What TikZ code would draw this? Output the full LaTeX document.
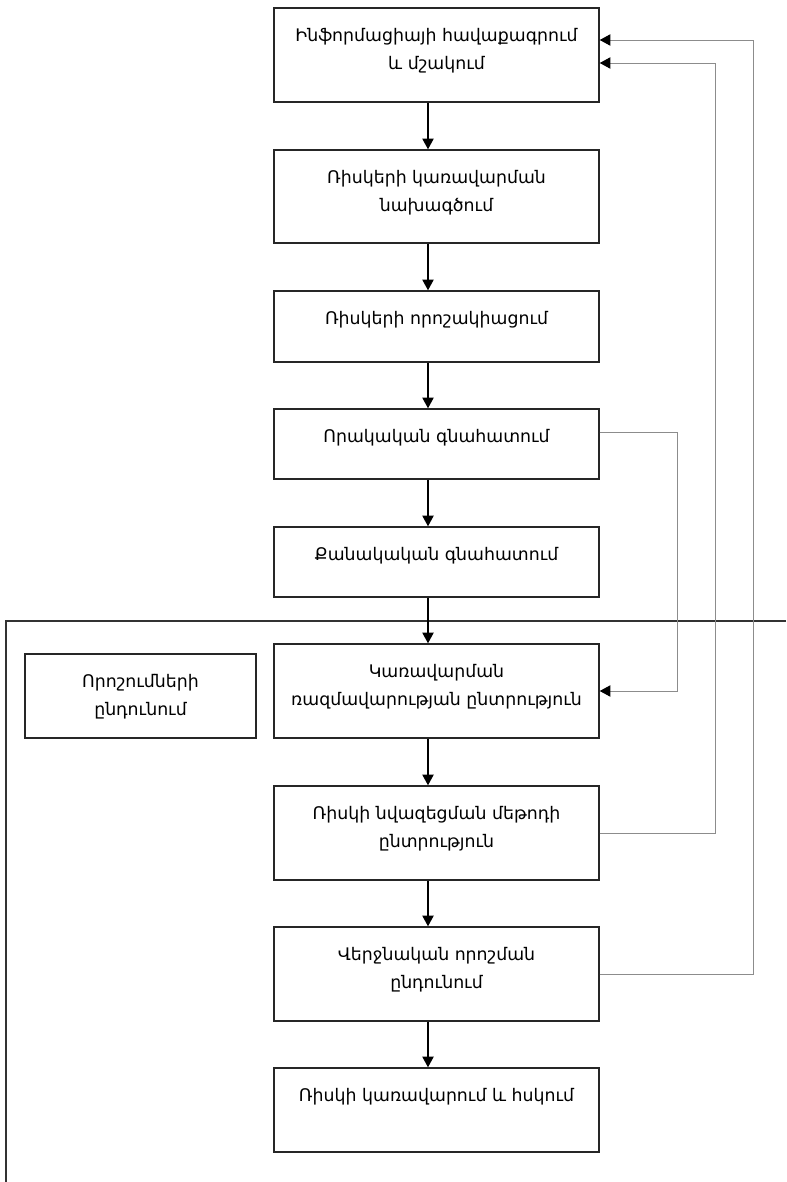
\documentclass[tikz,border=0pt]{standalone}
\usepackage{fontspec}
\setmainfont{DejaVu Sans}
\usetikzlibrary{arrows.meta}
% text hangs from the top of each box, as in a word processor
\newcommand{\boxtext}[3]{\parbox[c][#2][t]{#1}{\centering\vspace*{10.5pt}\strut#3}}

\begin{document}
\begin{tikzpicture}[x=0.75pt, y=-0.75pt,
    every node/.style={font=\fontsize{13}{21}\selectfont},
    stage/.style={draw=black!85, line width=1.1pt, minimum width=243.75pt, inner sep=0pt},
    flow/.style={line width=0.9pt, -{Triangle[length=8pt, width=8.5pt]}},
    back/.style={draw=black!45, line width=0.75pt, -{Triangle[length=8pt, width=8.5pt, color=black]}}]
    \useasboundingbox (0,0) rectangle (786,1182);
    % the decision block: only its top and left edges show
    \draw[line width=1.1pt, black!80] (786,621) -- (6,621) -- (6,1182);
    % main chain of stages
    \node[stage] (b1) at (436.5,55) {\boxtext{232pt}{70.5pt}{Ինֆորմացիայի հավաքագրում\\և մշակում}};
    \node[stage] (b2) at (436.5,196.5) {\boxtext{232pt}{69.75pt}{Ռիսկերի կառավարման\\նախագծում}};
    \node[stage] (b3) at (436.5,326.5) {\boxtext{232pt}{53.25pt}{Ռիսկերի որոշակիացում}};
    \node[stage] (b4) at (436.5,444) {\boxtext{232pt}{52.5pt}{Որակական գնահատում}};
    \node[stage] (b5) at (436.5,562) {\boxtext{232pt}{52.5pt}{Քանակական գնահատում}};
    \node[stage] (b6) at (436.5,691) {\boxtext{232pt}{70.5pt}{Կառավարման\\ռազմավարության ընտրություն}};
    \node[stage] (b7) at (436.5,833) {\boxtext{232pt}{70.5pt}{Ռիսկի նվազեցման մեթոդի\\ընտրություն}};
    \node[stage] (b8) at (436.5,974) {\boxtext{232pt}{70.5pt}{Վերջնական որոշման\\ընդունում}};
    \node[stage] (b9) at (436.5,1110) {\boxtext{232pt}{63pt}{Ռիսկի կառավարում և հսկում}};
    \node[stage, minimum width=173.25pt] (dec) at (140.5,696) {\boxtext{165pt}{63pt}{Որոշումների\\ընդունում}};
    \coordinate (spine) at (428,0);
    \foreach \from/\to in {b1/b2, b2/b3, b3/b4, b4/b5, b5/b6, b6/b7, b7/b8, b8/b9}
        \draw[flow] (\from.south -| spine) -- (\to.north -| spine);
    % feedback lines
    \coordinate (busA) at (677,432);
    \coordinate (busB) at (715,63);
    \coordinate (busC) at (753,40);
    \draw[back] (b4.east |- busA) -- (busA) |- (b6.east);
    \draw[back] (b7.east) -| (busB) -- (b1.east |- busB);
    \draw[back] (b8.east) -| (busC) -- (b1.east |- busC);
\end{tikzpicture}
\end{document}
